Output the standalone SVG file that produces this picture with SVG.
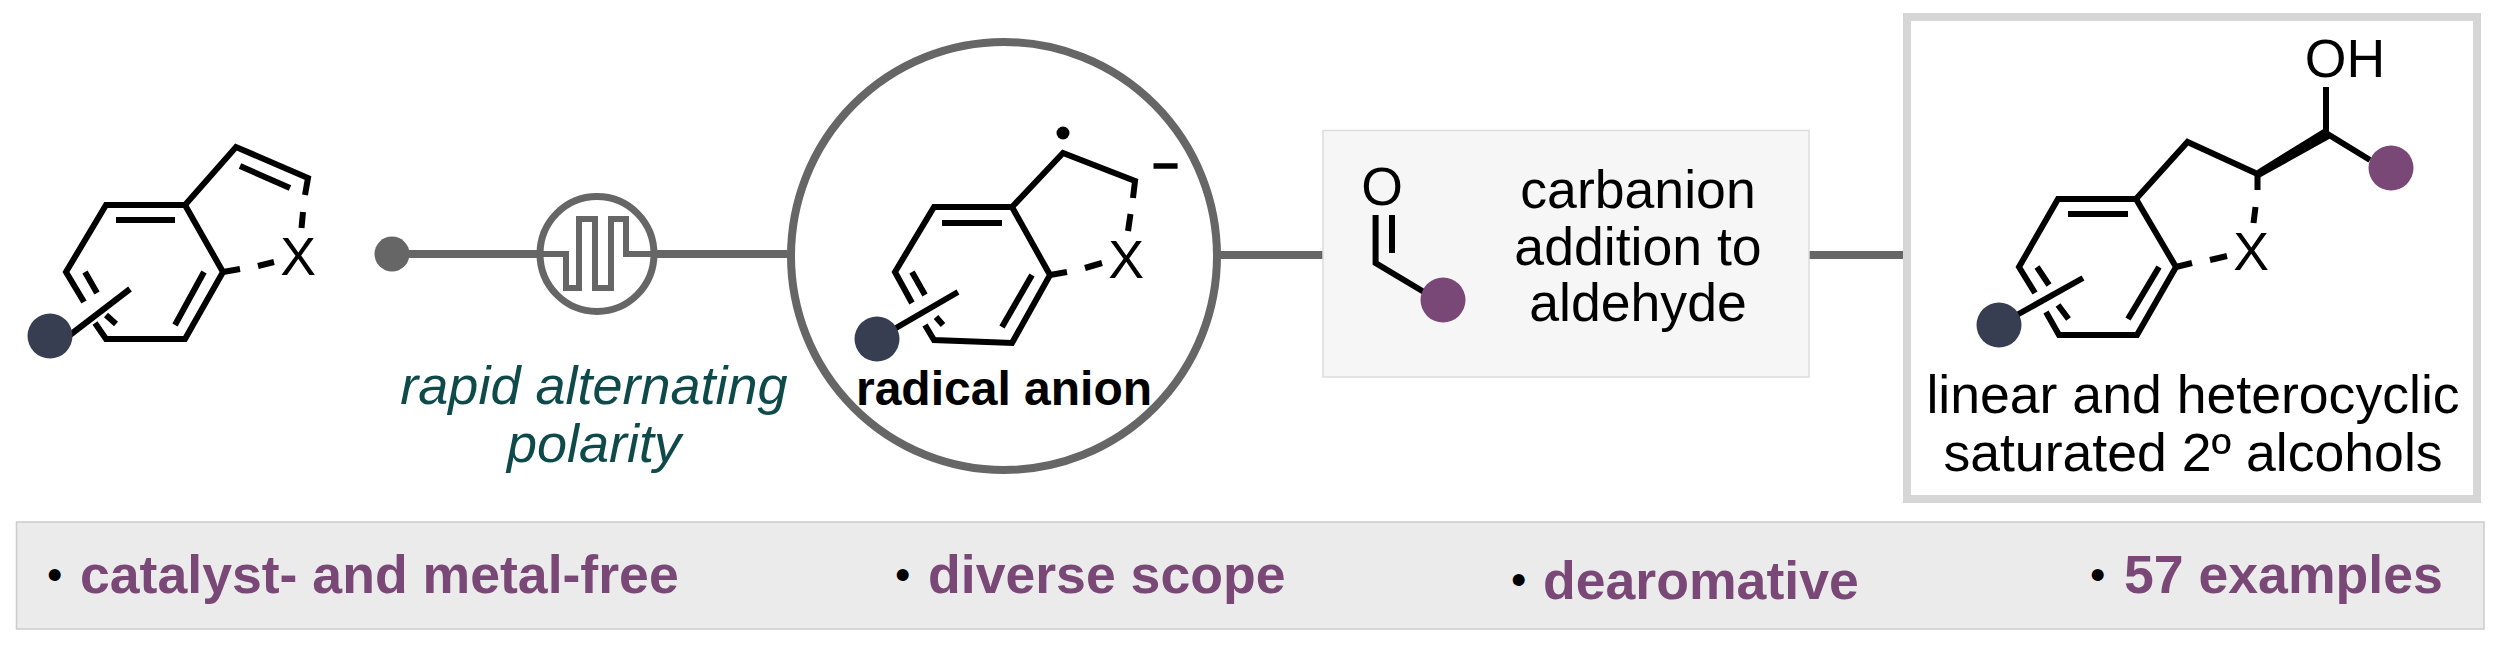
<svg xmlns="http://www.w3.org/2000/svg" width="2500" height="646" viewBox="0 0 2500 646">
<style>
text{font-family:"Liberation Sans",Arial,sans-serif;fill:#000}
.m{font-size:53.600px;text-anchor:middle}
.b{stroke:#000;stroke-width:6;fill:none;stroke-linejoin:miter}
.c{stroke:#666;stroke-width:8;fill:none}
.k{fill:#7a4876;font-size:53.600px;font-weight:bold}
.p{fill:#000;font-weight:normal;font-size:44px}
.i{fill:#0f4a4a;font-size:54px;font-style:italic;text-anchor:middle}
.navy{fill:#383e52}
.pur{fill:#7a4876}
</style>
<g id="connectors">
<line class="c" x1="392" y1="254" x2="540" y2="254"/>
<line class="c" x1="654" y1="254" x2="787" y2="254"/>
<line class="c" x1="1220" y1="255" x2="1323" y2="255"/>
<line class="c" x1="1809" y1="255" x2="1903" y2="255"/>
</g>
<g id="start-material">
<path class="b" d="M130 289L66 338"/>
<path class="b" d="M84 302L66 272L106 205H185L223 272L185 339H106L95 323"/>
<path class="b" d="M185 205L236 147L308 178L305 195M303 212L301.500 228M223 272L240 269M258 266L274 262M116 220H175M204 272L175 325M85 272L97 293M106 315L116 324M240 166L290 188"/>
<ellipse class="navy" cx="50" cy="336" rx="22.500" ry="22.500"/>
<text class="m" x="298" y="275">X</text>
</g>
<g id="electrolysis">
<circle cx="392" cy="254" r="17.500" fill="#666"/>
<ellipse cx="597" cy="254" rx="57" ry="57.500" fill="#fff" stroke="#666" stroke-width="7"/>
<path d="M540 254H566V288H579V219H595V288H611V219H626V254H654" fill="none" stroke="#666" stroke-width="6"/>
<text class="i" x="594" y="404">rapid alternating</text>
<text class="i" x="594" y="462">polarity</text>
</g>
<g id="radical-anion">
<ellipse cx="1004" cy="256" rx="213" ry="214" fill="#fff" stroke="#666" stroke-width="8"/>
<path class="b" d="M958 292L877 339"/>
<path class="b" d="M912 303L895 272L934 207H1012L1050 275L1012 343L934 340L925 325"/>
<path class="b" d="M1012 207L1063 153L1135 181L1133 198M1130.500 214L1128 231M1050 275L1067 272M1085 268L1102 263M942 223H1002M1032 275L1002 327M912 272L925 295M936 317L943 325"/>
<line x1="1153.500" y1="166" x2="1177.600" y2="166" stroke="#000" stroke-width="5.500"/>
<circle cx="1063" cy="133" r="6.500" fill="#000"/>
<ellipse class="navy" cx="877" cy="339" rx="22.500" ry="22.500"/>
<text class="m" x="1126" y="278">X</text>
<text x="1004" y="405" font-size="48" font-weight="bold" text-anchor="middle">radical anion</text>
</g>
<g id="aldehyde">
<rect x="1323" y="130.500" width="486" height="246.500" fill="#f6f6f6" stroke="#ddd" stroke-width="1.500"/>
<path class="b" d="M1375.600 215V263L1424 292M1392 215V253"/>
<ellipse class="pur" cx="1443" cy="300" rx="22.500" ry="22.500"/>
<text class="m" x="1382" y="205">O</text>
<text class="m" x="1638" y="208">carbanion</text>
<text class="m" x="1638" y="265">addition to</text>
<text class="m" x="1638" y="321">aldehyde</text>
</g>
<g id="product">
<rect x="1907" y="17" width="570" height="482" fill="#fff" stroke="#d6d6d6" stroke-width="8"/>
<path class="b" d="M2083 278L1999 325"/>
<path class="b" d="M2035 293L2019 267L2058 199H2136L2176 267L2137 335H2059L2046 312"/>
<path class="b" d="M2136 199L2187.500 142L2257.500 174V190M2255.500 207L2253.500 223M2176 267L2192 263M2210 260L2227 256M2068 214H2128M2159 267L2128 319M2037 267L2049 285M2058 305L2068.500 319M2326 87V133L2370 160"/>
<polygon points="2257,170 2259,178 2331,138 2325,128" fill="#000"/>
<ellipse class="pur" cx="2391" cy="168" rx="22.500" ry="22.500"/>
<ellipse class="navy" cx="1999" cy="325" rx="22.500" ry="22.500"/>
<text class="m" x="2251" y="270">X</text>
<text class="m" x="2345" y="77">OH</text>
<text class="m" x="2193" y="413">linear and heterocyclic</text>
<text class="m" x="2193" y="471">saturated 2º alcohols</text>
</g>
<g id="features">
<rect x="16.500" y="522" width="2467.500" height="107" fill="#ebebeb" stroke="#ccc" stroke-width="1.500"/>
<text class="k" y="593"><tspan class="p" x="47" y="590">• </tspan><tspan x="80" y="593">catalyst- and metal-free</tspan></text>
<text class="k" y="593"><tspan class="p" x="895" y="590">• </tspan><tspan x="928" y="593">diverse scope</tspan></text>
<text class="k" y="599"><tspan class="p" x="1511" y="595">• </tspan><tspan x="1543" y="599">dearomative</tspan></text>
<text class="k" y="593"><tspan class="p" x="2090" y="590">• </tspan><tspan x="2124" y="593">57 examples</tspan></text>
</g>
</svg>
